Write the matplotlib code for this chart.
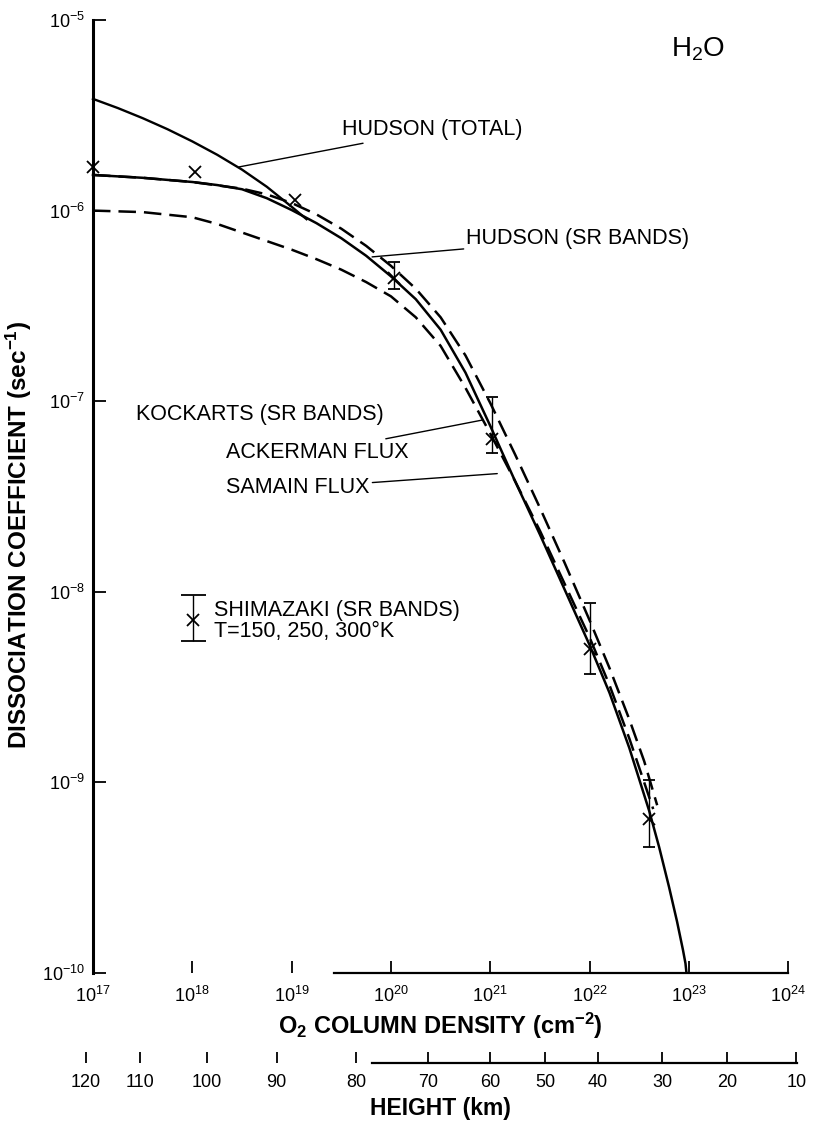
import numpy as np
import matplotlib
matplotlib.use("Agg")
from matplotlib import pyplot as plt
from matplotlib.ticker import FixedLocator, NullLocator

plt.rcParams['font.family'] = ['Liberation Sans', 'DejaVu Sans']
plt.rcParams['mathtext.default'] = 'regular'

# log10 of O2 column density (cm-2) and log10 of dissociation coefficient (sec-1)
hudson_total_logN = [17.0, 17.25, 17.5, 17.75, 18.0, 18.25, 18.5, 18.75, 19.0, 19.15]
hudson_total_logJ = [-5.414, -5.462, -5.515, -5.573, -5.637, -5.707, -5.785, -5.875, -5.98, -6.045]

solid_logN = [17.0, 17.5, 18.0, 18.25, 18.5, 18.75, 19.0, 19.25, 19.5, 19.75, 20.0, 20.25,
              20.5, 20.75, 21.0, 21.25, 21.5, 21.75, 22.0, 22.2, 22.4, 22.6, 22.7, 22.8,
              22.88, 22.94, 22.965, 22.975]
solid_logJ = [-5.813, -5.828, -5.850, -5.866, -5.888, -5.935, -5.997, -6.066, -6.145, -6.237,
              -6.345, -6.465, -6.625, -6.85, -7.13, -7.42, -7.70, -7.99, -8.28, -8.53, -8.82,
              -9.15, -9.34, -9.55, -9.73, -9.88, -9.95, -10.0]

upper_dash_logN = [17.0, 17.5, 18.0, 18.5, 18.75, 19.0, 19.25, 19.5, 19.75, 20.0, 20.25, 20.5,
                   20.75, 21.0, 21.25, 21.5, 21.75, 22.0, 22.2, 22.4, 22.55, 22.68]
upper_dash_logJ = [-5.813, -5.828, -5.85, -5.885, -5.915, -5.96, -6.02, -6.095, -6.185, -6.29,
                   -6.41, -6.56, -6.76, -7.01, -7.28, -7.56, -7.85, -8.15, -8.40, -8.67, -8.89,
                   -9.12]

lower_dash_logN = [17.0, 17.5, 18.0, 18.25, 18.5, 18.75, 19.0, 19.25, 19.5, 19.75, 20.0, 20.25,
                   20.5, 20.75, 21.0, 21.25, 21.5, 21.75, 22.0, 22.2, 22.4, 22.64]
lower_dash_logJ = [-6.0, -6.008, -6.035, -6.07, -6.115, -6.16, -6.205, -6.255, -6.31, -6.375,
                   -6.45, -6.56, -6.71, -6.93, -7.17, -7.42, -7.68, -7.96, -8.24, -8.49, -8.77,
                   -9.14]

# Shimazaki (SR bands) points, T=150, 250, 300 K
shim_logN = [17.0, 18.03, 19.03]
shim_logJ = [-5.771, -5.80, -5.944]
shim_err_logN = [20.03, 21.02, 22.0, 22.6]
shim_err_logJ = [-6.354, -7.20, -8.30, -9.19]
shim_err_top = [-6.27, -6.978, -8.06, -8.99]
shim_err_bot = [-6.41, -7.27, -8.43, -9.34]

decades = [17, 18, 19, 20, 21, 22, 23, 24]
ydecades = [-10, -9, -8, -7, -6, -5]

height_km = [120, 110, 100, 90, 80, 70, 60, 50, 40, 30, 20, 10]
height_logN = [16.93, 17.47, 18.15, 18.85, 19.65, 20.37, 21.0, 21.55, 22.08, 22.73, 23.38, 24.08]


def p(a):
    return 10.0 ** np.array(a)


fig = plt.figure(figsize=(8.15, 11.23), dpi=100)
ax = fig.add_axes([0.0958, 0.1336, 0.8897, 0.8486])
ax.set_xscale('log')
ax.set_yscale('log')
ax.set_xlim(10 ** 16.85, 10 ** 24.15)
ax.set_ylim(1e-10, 1e-5)

ax.plot(p(hudson_total_logN), p(hudson_total_logJ), color='k', lw=1.7)
ax.plot(p(solid_logN), p(solid_logJ), color='k', lw=1.8)
ax.plot(p(upper_dash_logN), p(upper_dash_logJ), color='k', lw=1.8, dashes=(7, 3.2))
ax.plot(p(lower_dash_logN), p(lower_dash_logJ), color='k', lw=1.8, dashes=(7, 3.2))

ax.plot(p(shim_logN), p(shim_logJ), 'x', color='k', ms=8, mew=1.3, clip_on=False)
shim_J = p(shim_err_logJ)
ax.errorbar(p(shim_err_logN), shim_J,
            yerr=[shim_J - p(shim_err_bot), p(shim_err_top) - shim_J],
            fmt='x', color='k', ms=8, mew=1.3, elinewidth=1.0, capsize=4.5, capthick=1.0)

# legend symbol
leg_J = 10 ** -8.148
ax.errorbar([10 ** 18.01], [leg_J], yerr=[[leg_J - 10 ** -8.258], [10 ** -8.017 - leg_J]],
            fmt='x', color='k', ms=9, mew=1.3, elinewidth=1.0, capsize=9, capthick=1.0)
ax.text(10 ** 18.22, 10 ** -8.153, 'SHIMAZAKI (SR BANDS)\nT=150, 250, 300°K',
        fontsize=15.5, va='center', linespacing=0.95)

arrow = dict(arrowstyle='-', lw=1.0, color='k', shrinkA=0, shrinkB=0)
ax.annotate('HUDSON (TOTAL)', xy=(10 ** 18.47, 10 ** -5.771), xytext=(10 ** 19.51, 10 ** -5.577),
            fontsize=15.5, va='center', ha='left', arrowprops=arrow)
ax.annotate('HUDSON (SR BANDS)', xy=(10 ** 19.81, 10 ** -6.243), xytext=(10 ** 20.76, 10 ** -6.149),
            fontsize=15.5, va='center', ha='left', arrowprops=arrow)
ax.text(10 ** 17.43, 10 ** -7.072, 'KOCKARTS (SR BANDS)', fontsize=15.5, va='center')
ax.annotate('ACKERMAN FLUX', xy=(10 ** 20.92, 10 ** -7.099), xytext=(10 ** 18.34, 10 ** -7.267),
            fontsize=15.5, va='center', ha='left', arrowprops=arrow)
ax.annotate('SAMAIN FLUX', xy=(10 ** 21.07, 10 ** -7.38), xytext=(10 ** 18.34, 10 ** -7.455),
            fontsize=15.5, va='center', ha='left', arrowprops=arrow)
ax.text(10 ** 23.09, 10 ** -5.152, 'H$_2$O', fontsize=20, va='center', ha='center')

# axes styling
for s in ['top', 'right']:
    ax.spines[s].set_visible(False)
ax.spines['left'].set_position(('data', 1e17))
ax.spines['left'].set_linewidth(2.2)
ax.spines['bottom'].set_bounds(10 ** 19.43, 1e24)
ax.spines['bottom'].set_linewidth(1.6)

ax.xaxis.set_major_locator(FixedLocator(p(decades)))
ax.xaxis.set_minor_locator(NullLocator())
ax.set_xticklabels([f'$10^{{{d}}}$' for d in decades])
ax.yaxis.set_major_locator(FixedLocator(p(ydecades)))
ax.yaxis.set_minor_locator(NullLocator())
ax.set_yticklabels([f'$10^{{{d}}}$' for d in ydecades])
ax.tick_params(axis='x', direction='in', length=9, width=1.3, labelsize=13, pad=9)
ax.tick_params(axis='y', direction='in', length=9, width=1.3, labelsize=13, pad=6)

ax.set_xlabel('O$_2$ COLUMN DENSITY (cm$^{-2}$)', fontsize=17, fontweight='bold', labelpad=4)
ax.set_ylabel('DISSOCIATION COEFFICIENT (sec$^{-1}$)', fontsize=17.5, fontweight='bold')
ax.yaxis.set_label_coords(-0.061, 0.46)

# height scale
hx = ax.secondary_xaxis(-0.0944)
hx.xaxis.set_major_locator(FixedLocator(p(height_logN)))
hx.xaxis.set_minor_locator(NullLocator())
hx.set_xticklabels([str(h) for h in height_km])
hx.tick_params(direction='in', length=8, width=1.3, labelsize=13, pad=8)
hx.spines['bottom'].set_bounds(10 ** 19.81, 10 ** 24.09)
hx.spines['bottom'].set_linewidth(1.6)
hx.set_xlabel('HEIGHT (km)', fontsize=16.5, fontweight='bold', labelpad=4)

fig.savefig('out.png', dpi=100)
